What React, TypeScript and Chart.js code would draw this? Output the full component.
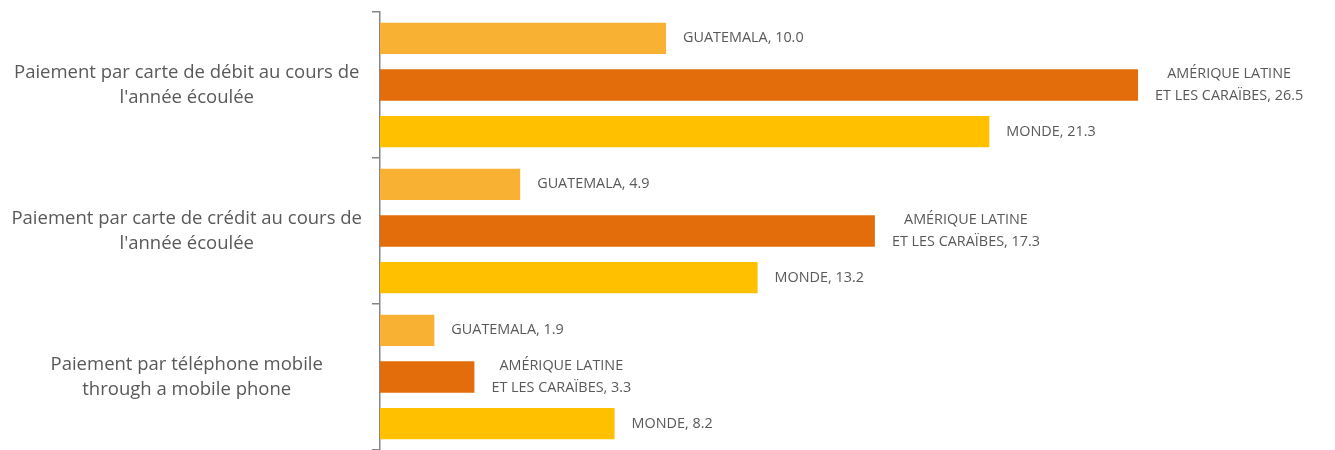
import React, { useEffect, useRef } from "react";
import { Chart, registerables } from "chart.js";

Chart.register(...registerables);

const categories: string[][] = [
  ["Paiement par carte de débit au cours de", "l'année écoulée"],
  ["Paiement par carte de crédit au cours de", "l'année écoulée"],
  ["Paiement par téléphone mobile", "through a mobile phone"],
];

const guatemalaValues = [10.0, 4.9, 1.9];
const lacValues = [26.5, 17.3, 3.3];
const mondeValues = [21.3, 13.2, 8.2];

const guatemalaLabel = ["GUATEMALA"];
const lacLabel = ["AMÉRIQUE LATINE", "ET LES CARAÏBES"];
const mondeLabel = ["MONDE"];

const FONT = "'Open Sans', sans-serif";

const labelPlugin = {
  id: "barLabels",
  afterDatasetsDraw(chart: any) {
    const ctx = chart.ctx;
    ctx.save();
    ctx.font = `14.4px ${FONT}`;
    ctx.fillStyle = "#595959";
    ctx.textAlign = "center";
    ctx.textBaseline = "middle";
    chart.data.datasets.forEach((ds: any, di: number) => {
      const meta = chart.getDatasetMeta(di);
      meta.data.forEach((bar: any, i: number) => {
        const name: string[] = ds.labelLines;
        const v = (ds.data[i] as number).toFixed(1);
        const lines = name.slice();
        lines[lines.length - 1] = lines[lines.length - 1] + ", " + v;
        const widest = Math.max(...lines.map((l) => ctx.measureText(l).width));
        const cx = bar.x + 17 + widest / 2;
        const lh = 22;
        const y0 = bar.y - ((lines.length - 1) * lh) / 2;
        lines.forEach((l, k) => ctx.fillText(l, cx, y0 + k * lh));
      });
    });
    ctx.restore();
  },
};

export default function App() {
  const ref = useRef<HTMLCanvasElement>(null);
  useEffect(() => {
    if (!ref.current) return;
    const chart = new Chart(ref.current, {
      type: "bar",
      data: {
        labels: categories as any,
        datasets: [
          { label: "Guatemala", data: guatemalaValues, backgroundColor: "#F8B133", labelLines: guatemalaLabel } as any,
          { label: "Amérique latine et les Caraïbes", data: lacValues, backgroundColor: "#E36C0B", labelLines: lacLabel } as any,
          { label: "Monde", data: mondeValues, backgroundColor: "#FFC000", labelLines: mondeLabel } as any,
        ],
      },
      options: {
        indexAxis: "y",
        animation: false,
        responsive: true,
        maintainAspectRatio: false,
        layout: { padding: { top: 12, bottom: -3, left: 0, right: 11 } },
        datasets: { bar: { categoryPercentage: 0.96, barPercentage: 0.67 } },
        plugins: { legend: { display: false }, tooltip: { enabled: false } },
        scales: {
          x: { display: false, min: 0, max: 33 },
          y: {
            afterFit: (s: any) => {
              s.width = 380;
              s.paddingTop = 0;
              s.paddingBottom = 0;
            },
            border: { display: true, color: "#868686", width: 1.5 },
            grid: { drawOnChartArea: false, drawTicks: true, tickLength: 8, color: "#868686", lineWidth: 1.5, offset: true },
            ticks: {
              crossAlign: "center",
              padding: 10,
              color: "#595959",
              font: { family: FONT, size: 18.5, lineHeight: 1.35 },
            },
          },
        },
      },
      plugins: [labelPlugin],
    });
    return () => chart.destroy();
  }, []);
  return (
    <div style={{ position: "absolute", left: 0, top: 0, width: 1335, height: 450 }}>
      <canvas ref={ref} />
    </div>
  );
}
